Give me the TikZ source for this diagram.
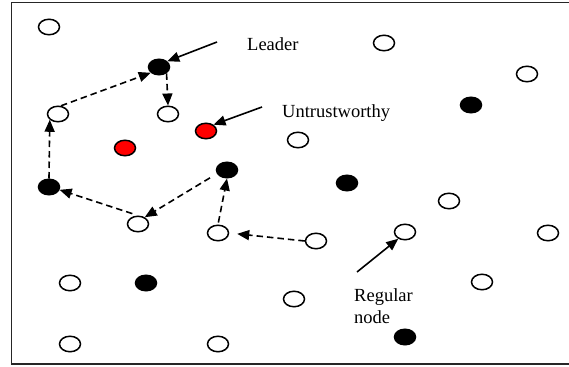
\documentclass[tikz,border=0pt]{standalone}
\usepackage{fontspec}
\setmainfont{Liberation Serif}
\usetikzlibrary{shapes.geometric,arrows.meta}
\begin{document}
\begin{tikzpicture}[x=1pt,y=-1pt,
  nd/.style={ellipse,draw=black,line width=1.5pt,minimum width=21pt,minimum height=15.5pt,inner sep=0pt},
  opn/.style={nd,fill=white},
  blk/.style={nd,fill=black},
  rd/.style={nd,fill=red},
  darr/.style={dash pattern=on 6.5pt off 4pt,line width=1.6pt,-{Triangle[length=12pt,width=10pt]}},
  sarr/.style={line width=1.6pt,-{Triangle[length=12pt,width=10pt]}},
  lbl/.style={font=\fontsize{18.5}{22}\selectfont,inner sep=0pt,text=black}]
\useasboundingbox (0,0) rectangle (569,366);
\fill[white] (0,0) rectangle (569,366);
\begin{scope}
\clip (0,0) rectangle (569,366);
\draw[line width=1.8pt,draw=black!85] (11.5,2.5) rectangle (580,364);
\end{scope}
% open nodes
\node[opn] (o1) at (49,27) {};
\node[opn] (o2) at (58,114) {};
\node[opn] (o3) at (168,114) {};
\node[opn] (o4) at (138,224) {};
\node[opn] (o5) at (218,233) {};
\node[opn] (o6) at (384,43) {};
\node[opn] (o7) at (527,74) {};
\node[opn] (o8) at (298,140) {};
\node[opn] (o9) at (449,201) {};
\node[opn] (o10) at (405,232) {};
\node[opn] (o11) at (548,233) {};
\node[opn] (o12) at (316,241) {};
\node[opn] (o13) at (70,283) {};
\node[opn] (o14) at (294,299) {};
\node[opn] (o15) at (482,282) {};
\node[opn] (o16) at (70,344) {};
\node[opn] (o17) at (218,344) {};
% black nodes
\node[blk] (L) at (159,67) {};
\node[blk] (b2) at (227,170) {};
\node[blk] (b1) at (49,187) {};
\node[blk] (b3) at (471,105) {};
\node[blk] (b4) at (347,183) {};
\node[blk] (b5) at (146,283) {};
\node[blk] (b6) at (405,337) {};
% red nodes
\node[rd] (r1) at (206,131) {};
\node[rd] (r2) at (125,148) {};
% labels
\node[lbl,anchor=west] (tl) at (247,44) {Leader};
\node[lbl,anchor=west] (tu) at (282,113) {Untrustworthy};
\node[lbl,anchor=west,align=left] (tr) at (354,306) {Regular\\node};
\coordinate (cl) at (217,42);
\coordinate (cu) at (262,107);
\coordinate (cr) at (357,272);
% label arrows
\draw[sarr] (cl) -- (L.35);
\draw[sarr] (cu) -- (r1.40);
\draw[sarr] (cr) -- (o10.225);
% dashed path arrows
\draw[darr] (b1.north) -- (o2.215);
\draw[darr] (o2.70) -- (L.215);
\draw[darr] (L.-40) -- (o3.north);
\draw[darr,shorten <=8pt] (b2.200) -- (o4.45);
\draw[darr,shorten <=6pt] (o4.north) -- (b1.-15);
\draw[darr,shorten <=2pt] (o5.north) -- (b2.south);
\draw[darr,shorten >=8pt] (o12.west) -- (o5.east);
\end{tikzpicture}
\end{document}
